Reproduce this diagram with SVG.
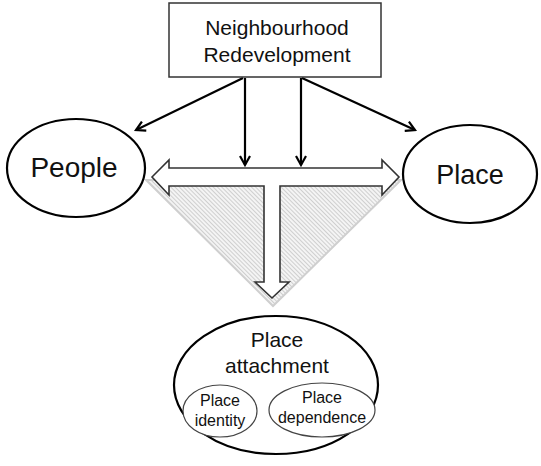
<svg xmlns="http://www.w3.org/2000/svg" width="541" height="466" viewBox="0 0 541 466">
<style>
text{font-family:"Liberation Sans",Arial,sans-serif;fill:#111;text-anchor:middle}
.big{fill:#fff;stroke:#000;stroke-width:2.2}
.small{fill:#fff;stroke:#444;stroke-width:1.2}
.conn{stroke:#000;stroke-width:2.2;fill:none;marker-end:url(#ah)}
</style>
<defs>
<marker id="ah" viewBox="0 0 12 12" refX="10" refY="6" markerWidth="12" markerHeight="12" markerUnits="userSpaceOnUse" orient="auto">
<path d="M1,1 L10,6 L1,11" fill="none" stroke="#000" stroke-width="2.2" stroke-linejoin="miter"/>
</marker>
<pattern id="hatch" patternUnits="userSpaceOnUse" width="3" height="3" patternTransform="rotate(-45)">
<rect width="3" height="3" fill="#f4f4f4"/>
<line x1="0" y1="0" x2="0" y2="3" stroke="#bcbcbc" stroke-width="1.3"/>
</pattern>
</defs>
<rect width="541" height="466" fill="#fff"/>
<g id="hatch-triangle">
<polygon points="146,180 401,180 273,306" fill="url(#hatch)" stroke="#cfcfcf" stroke-width="2"/>
</g>
<g id="block-arrow">
<path d="M152,177 L169,160 L169,168 L382,168 L382,160 L399,177 L382,195 L382,186 L280,186 L280,282 L289,282 L272,298 L255,282 L264,282 L264,186 L169,186 L169,195 Z" fill="#fff" stroke="#333" stroke-width="1.6" stroke-linejoin="miter"/>
</g>
<g id="connectors">
<line class="conn" x1="243" y1="78" x2="136" y2="130"/>
<line class="conn" x1="302" y1="78" x2="415" y2="130"/>
<line class="conn" x1="245" y1="78" x2="245" y2="165"/>
<line class="conn" x1="301" y1="78" x2="301" y2="165"/>
</g>
<g id="neighbourhood-redevelopment">
<rect x="169" y="3" width="212" height="74" fill="#fff" stroke="#333" stroke-width="1.5"/>
<text x="277" y="35" font-size="21">Neighbourhood</text>
<text x="277" y="62" font-size="21">Redevelopment</text>
</g>
<g id="people">
<ellipse class="big" cx="76" cy="168" rx="69" ry="49"/>
<text x="74" y="177" font-size="28">People</text>
</g>
<g id="place">
<ellipse class="big" cx="470" cy="174" rx="67" ry="49"/>
<text x="470" y="184" font-size="27">Place</text>
</g>
<g id="place-attachment">
<ellipse class="big" cx="276" cy="385" rx="102" ry="69"/>
<text x="277" y="347" font-size="21">Place</text>
<text x="277" y="373" font-size="21">attachment</text>
</g>
<g id="place-identity">
<ellipse class="small" cx="220" cy="411" rx="37" ry="26"/>
<text x="220" y="406" font-size="16">Place</text>
<text x="220" y="426" font-size="16">identity</text>
</g>
<g id="place-dependence">
<ellipse class="small" cx="322" cy="410" rx="53" ry="27"/>
<text x="322" y="403" font-size="16">Place</text>
<text x="322" y="423" font-size="16">dependence</text>
</g>
</svg>
